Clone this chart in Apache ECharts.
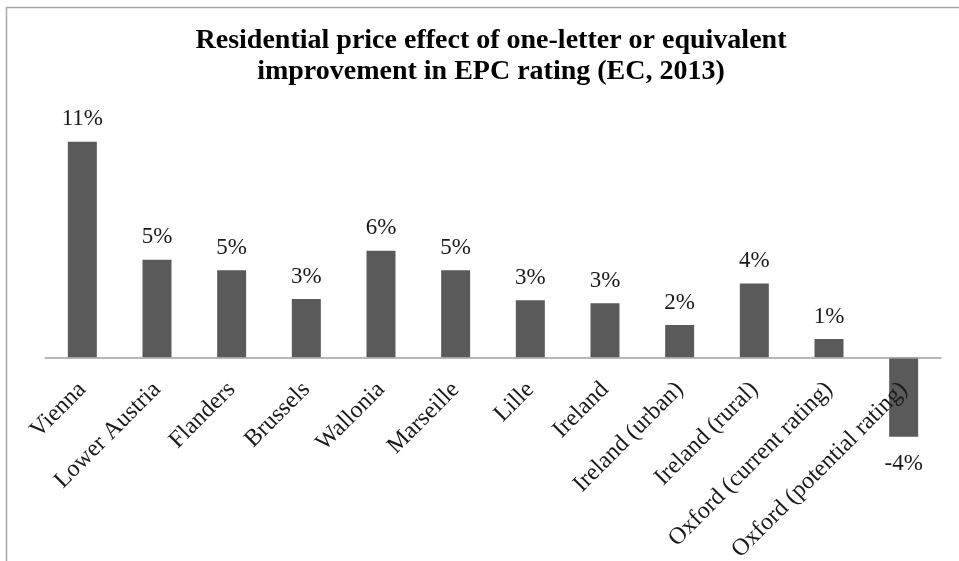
<!DOCTYPE html>
<html>
<head>
<meta charset="utf-8">
<script src="https://cdn.jsdelivr.net/npm/echarts@6/dist/echarts.min.js"></script>
<style>
html,body{margin:0;padding:0;background:#fff;}
#chart{width:959px;height:561px;}
</style>
</head>
<body>
<div id="chart"></div>
<script>
var titleLines = ['Residential price effect of one-letter or equivalent', 'improvement in EPC rating (EC, 2013)'];
var categories = ['Vienna', 'Lower Austria', 'Flanders', 'Brussels', 'Wallonia', 'Marseille', 'Lille', 'Ireland', 'Ireland (urban)', 'Ireland (rural)', 'Oxford (current rating)', 'Oxford (potential rating)'];
var priceEffect = [11.18, 5.07, 4.52, 3.03, 5.53, 4.52, 2.96, 2.81, 1.68, 3.84, 0.96, -4.10];

var chart = echarts.init(document.getElementById('chart'));
var option = {
  animation: false,
  backgroundColor: '#ffffff',
  graphic: [
    { type: 'rect', silent: true, shape: { x: 6.5, y: 7.5, width: 1000, height: 600 },
      style: { fill: 'none', stroke: '#a6a6a6', lineWidth: 1.5 } },
    { type: 'text', x: 491, y: 25, style: { text: titleLines.join('\n'), align: 'center', verticalAlign: 'top',
      font: 'bold 28px "Liberation Serif"', lineHeight: 31, fill: '#000' } }
  ],
  grid: { left: 45, right: 18, top: 125.9, bottom: 107, containLabel: false, outerBoundsMode: 'none' },
  xAxis: {
    type: 'category',
    data: categories,
    z: 10,
    axisLine: { show: true, onZero: true, lineStyle: { color: '#a0a0a0', width: 1.5 } },
    axisTick: { show: false },
    axisLabel: { interval: 0, rotate: 45, margin: -68, fontFamily: 'Liberation Serif', fontSize: 24, color: '#1a1a1a' }
  },
  yAxis: {
    type: 'value', min: -5, max: 12, show: false, splitLine: { show: false }
  },
  series: [{
    type: 'bar',
    barWidth: 29,
    itemStyle: { color: '#5a5a5a' },
    label: {
      show: true, fontFamily: 'Liberation Serif', fontSize: 23, color: '#1a1a1a',
      formatter: function (p) { return Math.round(p.value) + '%'; }
    },
    data: priceEffect.map(function (v) {
      return { value: v, label: v < 0 ? { position: 'bottom', distance: 16 } : { position: 'top', distance: 11 } };
    })
  }]
};
chart.setOption(option);
</script>
</body>
</html>
